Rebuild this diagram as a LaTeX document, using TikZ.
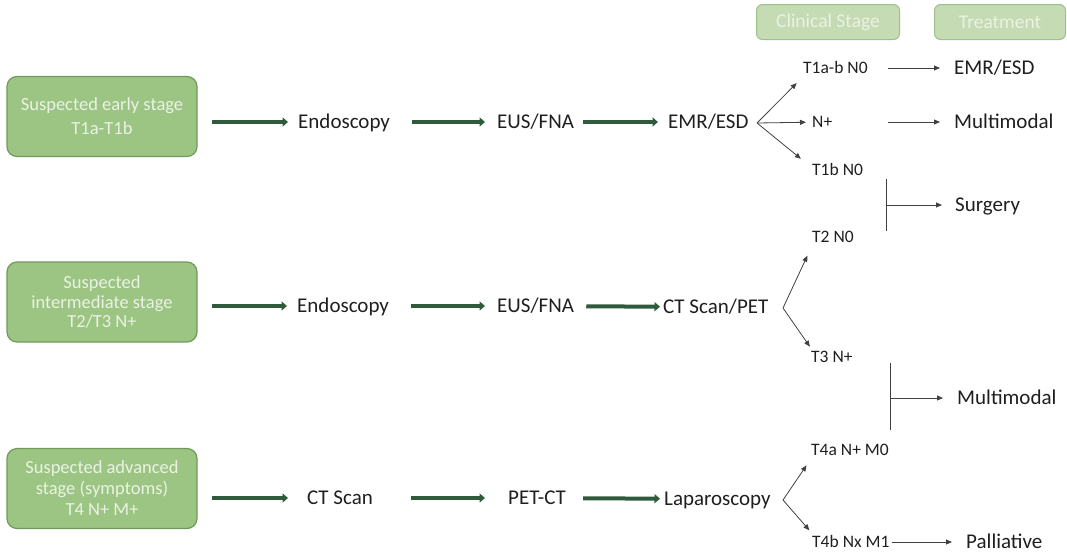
\documentclass[tikz,border=0pt]{standalone}
\usepackage{fontspec}
\setmainfont{Carlito}
\usetikzlibrary{arrows.meta}

\definecolor{boxfill}{HTML}{9CC584}
\definecolor{boxline}{HTML}{6F9A5A}
\definecolor{headfill}{HTML}{C4DBB4}
\definecolor{headline}{HTML}{9FBF8B}
\definecolor{boxtext}{HTML}{EAF2E3}
\definecolor{flowgreen}{HTML}{2F5A3C}
\definecolor{labeltext}{HTML}{1F1F1F}

\begin{document}
\begin{tikzpicture}[x=1pt, y=-1pt,
    stagebox/.style={rectangle, draw=boxline, fill=boxfill, line width=1.2pt, rounded corners=10pt, minimum width=190pt, minimum height=80pt, text=boxtext, align=center, font=\fontsize{18.5}{24}\selectfont},
    headbox/.style={rectangle, draw=headline, fill=headfill, line width=1pt, rounded corners=6pt, minimum height=35pt, text=boxtext, font=\fontsize{19.5}{22}\selectfont},
    steplabel/.style={anchor=west, inner xsep=0pt, inner ysep=1pt, text height=15pt, text depth=3pt, text=labeltext, font=\fontsize{21}{24}\selectfont},
    stagelabel/.style={anchor=west, inner xsep=0pt, inner ysep=1pt, text height=13pt, text depth=2pt, text=labeltext, font=\fontsize{17.5}{20}\selectfont},
    mainarrow/.style={-{Triangle[length=5.5pt, width=9pt]}, line width=4pt, flowgreen, shorten <=12pt, shorten >=10pt},
    thinarrow/.style={-{Triangle[length=6pt, width=5pt]}, line width=0.8pt, labeltext!85},
    bracket/.style={line width=0.8pt, labeltext!85}
]
    \useasboundingbox (0,0) rectangle (1067,555);

    % Column headers
    \node[headbox, minimum width=143pt] (clin) at (828,22) {Clinical Stage};
    \node[headbox, minimum width=131pt] (treat) at (1000,22) {Treatment};

    % Early stage
    \node[stagebox] (early) at (102,116.5) {Suspected early stage\\T1a-T1b};
    \node[steplabel] (endo1) at (298,122) {Endoscopy};
    \node[steplabel] (eus1) at (497,122) {EUS/FNA};
    \node[steplabel] (emr1) at (668,122) {EMR/ESD};

    \draw[mainarrow, shorten <=14pt] (early.east |- endo1) -- (endo1);
    \draw[mainarrow, shorten <=22pt, shorten >=12pt] (endo1) -- (eus1);
    \draw[mainarrow, shorten <=9pt] (eus1) -- (emr1);

    % Intermediate stage
    \node[stagebox, font=\fontsize{18.5}{19.5}\selectfont] (inter) at (102,302) {Suspected\\intermediate stage\\T2/T3 N+};
    \node[steplabel] (endo2) at (297,306) {Endoscopy};
    \node[steplabel] (eus2) at (497,306) {EUS/FNA};
    \node[steplabel] (ctpet) at (663,307) {CT Scan/PET};

    \draw[mainarrow, shorten <=14pt] (inter.east |- endo2) -- (endo2);
    \draw[mainarrow, shorten <=22pt, shorten >=12pt] (endo2) -- (eus2);
    \draw[mainarrow, shorten >=3pt] (eus2) -- (ctpet);

    % Advanced stage
    \node[stagebox, font=\fontsize{18.5}{21}\selectfont] (adv) at (102,488.5) {Suspected advanced\\stage (symptoms)\\T4 N+ M+};
    \node[steplabel] (ctscan) at (307,498) {CT Scan};
    \node[steplabel] (petct) at (508,498) {PET-CT};
    \node[steplabel] (lapa) at (664,499) {Laparoscopy};

    \draw[mainarrow, shorten <=14pt, shorten >=19pt] (adv.east |- ctscan) -- (ctscan);
    \draw[mainarrow, shorten <=38pt, shorten >=23pt] (ctscan) -- (petct);
    \draw[mainarrow, shorten <=17pt, shorten >=4pt] (petct) -- (lapa);

    % Clinical stages
    \node[stagelabel] (t1ab) at (803,68) {T1a-b N0};
    \node[stagelabel] (nplus) at (812,122) {N+};
    \node[stagelabel] (t1b) at (812,170) {T1b N0};
    \node[stagelabel] (t2) at (812,237) {T2 N0};
    \node[stagelabel] (t3) at (811,357) {T3 N+};
    \node[stagelabel] (t4a) at (811,450) {T4a N+ M0};
    \node[stagelabel] (t4b) at (812,542) {T4b Nx M1};

    \coordinate (fork1) at (757,123);
    \coordinate (fork2) at (783,308);
    \coordinate (fork3) at (783,500);

    \draw[thinarrow, shorten >=9pt] (fork1) -- (t1ab.south west);
    \draw[thinarrow, shorten >=6pt] (fork1) -- (nplus);
    \draw[thinarrow, shorten >=4pt] (fork1) -- ([xshift=-8pt]t1b.north west);
    \draw[thinarrow, shorten >=11pt] (fork2) -- (t2.south west);
    \draw[thinarrow, shorten >=2pt] (fork2) -- (t3.north west);
    \draw[thinarrow, shorten >=8pt] (fork3) -- (t4a.south west);
    \draw[thinarrow, shorten >=4pt] (fork3) -- (t4b.north west);

    % Treatments
    \node[steplabel] (emrT) at (954,68) {EMR/ESD};
    \node[steplabel] (multi1) at (954,122) {Multimodal};
    \node[steplabel] (surg) at (955,205) {Surgery};
    \node[steplabel] (multi2) at (957,398) {Multimodal};
    \node[steplabel] (pall) at (966,542) {Palliative};

    \draw[thinarrow, shorten <=20pt, shorten >=14pt] (t1ab) -- (emrT);
    \draw[thinarrow, shorten >=14pt] ([xshift=20pt]t1ab.east |- nplus) -- (multi1);
    \draw[thinarrow, shorten <=2pt, shorten >=14pt] (t4b) -- (pall);

    \coordinate (br1) at (886,205);
    \draw[bracket] (br1) ++(0,-26) -- ++(0,52);
    \draw[thinarrow, shorten >=13pt] (br1) -- (surg);

    \coordinate (br2) at (890,398);
    \draw[bracket] (br2) ++(0,-35) -- ++(0,67);
    \draw[thinarrow, shorten >=14pt] (br2) -- (multi2);
\end{tikzpicture}
\end{document}
